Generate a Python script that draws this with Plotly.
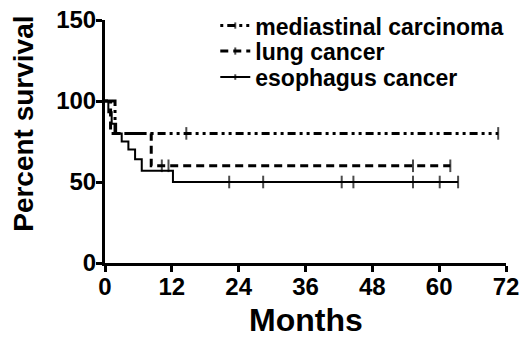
import plotly.graph_objects as go

# ---- data (months, percent survival) ----
x_ticks = [0, 12, 24, 36, 48, 60, 72]
y_ticks = [0, 50, 100, 150]

med_event_t = [0, 1.8]
med_event_s = [100, 80]
med_cens_t = [14.6, 70.6]

lung_event_t = [0, 1.0, 8.3]
lung_event_s = [100, 80, 60]
lung_cens_t = [10.2, 11.4, 55.3, 62.0]

eso_event_t = [0, 0.6, 1.2, 2.0, 3.0, 4.2, 5.4, 6.6, 12.2]
eso_event_s = [100, 93, 86, 80, 75, 70, 64, 57, 50]
eso_cens_t = [22.3, 28.4, 42.5, 44.6, 55.3, 60.1, 63.4]

names = ["mediastinal carcinoma", "lung cancer", "esophagus cancer"]


def km_points(ev_t, ev_s, cens_t):
    pts = [(t, s, 0) for t, s in zip(ev_t, ev_s)]
    for c in cens_t:
        cur = ev_s[0]
        for t, s in zip(ev_t, ev_s):
            if t <= c:
                cur = s
        pts.append((c, cur, 1))
    pts.sort(key=lambda p: p[0])
    return [p[0] for p in pts], [p[1] for p in pts], [p[2] for p in pts]


series = [
    (med_event_t, med_event_s, med_cens_t, "3px,4px,8px,4px,3px,4px", 3, "legend"),
    (lung_event_t, lung_event_s, lung_cens_t, "8px,5px", 3, "legend2"),
    (eso_event_t, eso_event_s, eso_cens_t, "solid", 2, "legend3"),
]

fig = go.Figure()
for (et, es, ct, dash, lw, lg), nm in zip(series, names):
    xs, ys, cf = km_points(et, es, ct)
    fig.add_trace(go.Scatter(
        x=xs, y=ys, name=nm, mode="lines+markers", legend=lg,
        line=dict(shape="hv", color="black", width=lw, dash=dash),
        marker=dict(symbol="line-ns", size=[9 if c else 0 for c in cf],
                    color="black", line=dict(color="black", width=2)),
        cliponaxis=False,
    ))

font_family = "Liberation Sans, Arial, sans-serif"
leg_font = dict(size=23, weight="bold", family=font_family, color="black")


def leg(yc):
    return dict(x=0.275, y=yc, xanchor="left", yanchor="middle",
                bgcolor="rgba(0,0,0,0)", font=leg_font)


fig.update_layout(
    width=521, height=339,
    margin=dict(l=105, r=15, t=20, b=76, autoexpand=False),
    paper_bgcolor="white", plot_bgcolor="white",
    font=dict(family=font_family, color="black", size=24, weight="bold"),
    showlegend=True,
    legend=leg(0.977), legend2=leg(0.872), legend3=leg(0.765),
    xaxis=dict(range=[0, 72], tickvals=x_ticks, ticktext=[str(v) for v in x_ticks],
               showgrid=False, zeroline=False, showline=True, linecolor="black",
               linewidth=3, ticks="outside", ticklen=6, tickwidth=2.5,
               tickcolor="black", tickfont=dict(size=24, weight="bold"),
               ticklabelstandoff=-6, automargin=False),
    yaxis=dict(range=[0, 150], tickvals=y_ticks, ticktext=[str(v) for v in y_ticks],
               showgrid=False, zeroline=False, showline=True, linecolor="black",
               linewidth=3, ticks="outside", ticklen=6, tickwidth=2.5,
               tickcolor="black", tickfont=dict(size=24, weight="bold"),
               ticklabelstandoff=-5, automargin=False),
    annotations=[
        dict(text="Percent survival", xref="paper", yref="paper",
             x=-0.205, y=0.572, xanchor="center", yanchor="middle",
             textangle=-90, showarrow=False, font=dict(size=28, weight="bold")),
        dict(text="Months", xref="paper", yref="paper",
             x=0.5, y=-0.2346, xanchor="center", yanchor="middle",
             showarrow=False, font=dict(size=32, weight="bold")),
    ],
)

fig.write_html("out.html", config={"displayModeBar": False},
               post_script="document.body.style.margin='0px';")
